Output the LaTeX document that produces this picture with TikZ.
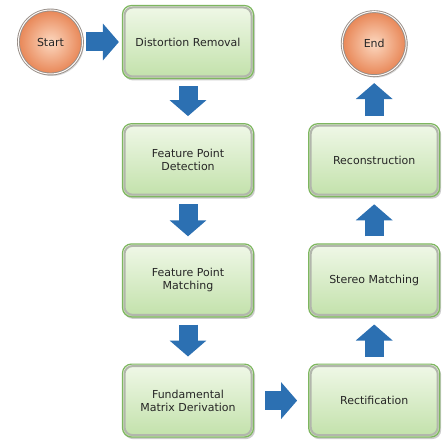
\documentclass[tikz,border=0pt]{standalone}
\usepackage{fontspec}
\setmainfont{DejaVu Sans}
\usetikzlibrary{arrows.meta, positioning, shadows}
\definecolor{colBoxTop}{RGB}{240,248,232}
\definecolor{colBoxBot}{RGB}{194,225,170}
\definecolor{colBoxEdge}{RGB}{126,182,96}
\definecolor{colRim}{RGB}{178,182,172}
\definecolor{colTermIn}{RGB}{252,216,192}
\definecolor{colTermOut}{RGB}{232,134,86}
\definecolor{colTermEdge}{RGB}{150,142,136}
\definecolor{colArrow}{RGB}{44,112,178}
\tikzset{
  % shared text
  boxText/.style={font=\fontsize{11}{13}\selectfont, text=black!85},
  % process steps
  stepBox/.style={
    rectangle, rounded corners=9pt,
    draw=colBoxEdge, line width=1.2pt,
    top color=colBoxTop, bottom color=colBoxBot,
    minimum width=131pt, minimum height=73pt,
    align=center, boxText,
    drop shadow={shadow xshift=1.5pt, shadow yshift=-2pt, opacity=0.4},
    path picture={\draw[colRim, line width=2pt, rounded corners=8pt]
      ([shift={(2pt,-2pt)}]path picture bounding box.north west) rectangle
      ([shift={(-2pt,2pt)}]path picture bounding box.south east);},
  },
  % start / end circles
  termNode/.style={
    circle, minimum size=64pt, inner sep=0pt,
    draw=colTermEdge, double=white!85!colTermIn, double distance=1pt,
    line width=0.9pt,
    inner color=colTermIn, outer color=colTermOut,
    boxText,
    drop shadow={shadow xshift=1.5pt, shadow yshift=-2pt, opacity=0.3},
  },
  % fat block arrows
  flowArr/.style={
    draw=colArrow, line width=19pt,
    -{Triangle[width=36pt, length=16pt]},
    shorten <=#1, shorten >=#1,
  },
  flowArr/.default=7pt,
}

\begin{document}
\begin{tikzpicture}[x=1pt, y=-1pt]

\useasboundingbox (0,0) rectangle (443,446);

% ═══════════════════════════════════════════════════════════════════════════
%  LEFT COLUMN
% ═══════════════════════════════════════════════════════════════════════════
\node[stepBox] (dist) at (188,42) {Distortion Removal};
\node[termNode, left=39pt of dist] (start) {Start};

\node[stepBox, below=44pt of dist]   (detect) {Feature Point\\Detection};
\node[stepBox, below=46pt of detect] (match)  {Feature Point\\Matching};
\node[stepBox, below=46pt of match]  (fund)   {Fundamental\\Matrix Derivation};

% ═══════════════════════════════════════════════════════════════════════════
%  RIGHT COLUMN
% ═══════════════════════════════════════════════════════════════════════════
\node[stepBox, right=54pt of fund]   (rect)   {Rectification};
\node[stepBox, above=46pt of rect]   (stereo) {Stereo Matching};
\node[stepBox, above=46pt of stereo] (recon)  {Reconstruction};
\node[termNode, above=47pt of recon] (end)    {End};

% ═══════════════════════════════════════════════════════════════════════════
%  BLOCK ARROWS
% ═══════════════════════════════════════════════════════════════════════════
\draw[flowArr=3pt] (start) -- (dist);
\draw[flowArr] (dist)   -- (detect);
\draw[flowArr] (detect) -- (match);
\draw[flowArr] (match)  -- (fund);
\draw[flowArr=11pt] (fund) -- (rect);
\draw[flowArr] (rect)   -- (stereo);
\draw[flowArr] (stereo) -- (recon);
\draw[flowArr] (recon)  -- (end);

\end{tikzpicture}
\end{document}
